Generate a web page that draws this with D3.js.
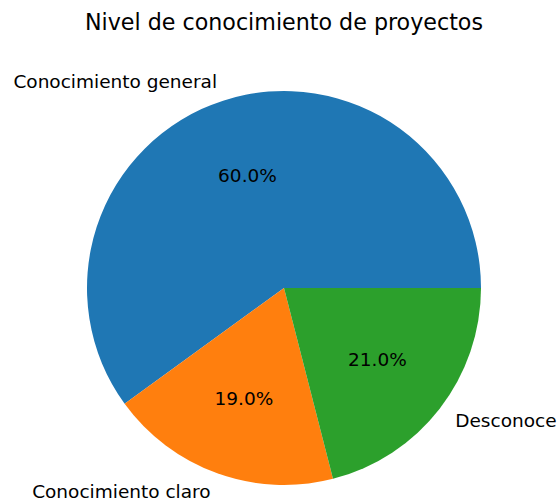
<!DOCTYPE html>
<html>
<head>
<meta charset="utf-8">
<script src="https://cdn.jsdelivr.net/npm/d3@7"></script>
<style>
  body { margin: 0; background: #fff; }
  text { font-family: "DejaVu Sans", sans-serif; fill: #000; }
</style>
</head>
<body>
<svg id="chart" width="558" height="501"></svg>
<script>
const categories = ["Conocimiento general", "Conocimiento claro", "Desconoce"];
const values = [60, 19, 21];
const colors = ["#1f77b4", "#ff7f0e", "#2ca02c"];
const title = "Nivel de conocimiento de proyectos";

const svg = d3.select("#chart");
const cx = 284, cy = 288, radius = 197;

svg.append("text")
    .attr("x", cx)
    .attr("y", 30)
    .attr("text-anchor", "middle")
    .style("font-size", "22.2px")
    .text(title);

const data = categories.map((c, i) => ({ label: c, value: values[i], color: colors[i] }));

// matplotlib style: start at 3 o'clock, go counterclockwise
const pie = d3.pie()
    .sort(null)
    .value(d => d.value)
    .startAngle(Math.PI / 2)
    .endAngle(Math.PI / 2 - 2 * Math.PI);

const arcs = pie(data);
const total = d3.sum(values);

const g = svg.append("g").attr("transform", "translate(" + cx + "," + cy + ")");

g.selectAll("path")
    .data(arcs)
    .enter().append("path")
    .attr("d", d3.arc().innerRadius(0).outerRadius(radius))
    .attr("fill", d => d.data.color);

function point(a, r) {
    return [r * Math.sin(a), -r * Math.cos(a)];
}

// category labels at 1.1 * radius
g.selectAll(".label")
    .data(arcs)
    .enter().append("text")
    .attr("class", "label")
    .each(function (d) {
        const mid = (d.startAngle + d.endAngle) / 2;
        const [x, y] = point(mid, radius * 1.1);
        d3.select(this)
            .attr("x", x)
            .attr("y", y)
            .attr("dy", "0.32em")
            .attr("text-anchor", x > 0 ? "start" : "end");
    })
    .style("font-size", "18.5px")
    .text(d => d.data.label);

// percentages at 0.6 * radius
g.selectAll(".pct")
    .data(arcs)
    .enter().append("text")
    .attr("class", "pct")
    .each(function (d) {
        const mid = (d.startAngle + d.endAngle) / 2;
        const [x, y] = point(mid, radius * 0.6);
        d3.select(this)
            .attr("x", x)
            .attr("y", y)
            .attr("dy", "0.32em")
            .attr("text-anchor", "middle");
    })
    .style("font-size", "18.5px")
    .text(d => (d.data.value / total * 100).toFixed(1) + "%");
</script>
</body>
</html>
